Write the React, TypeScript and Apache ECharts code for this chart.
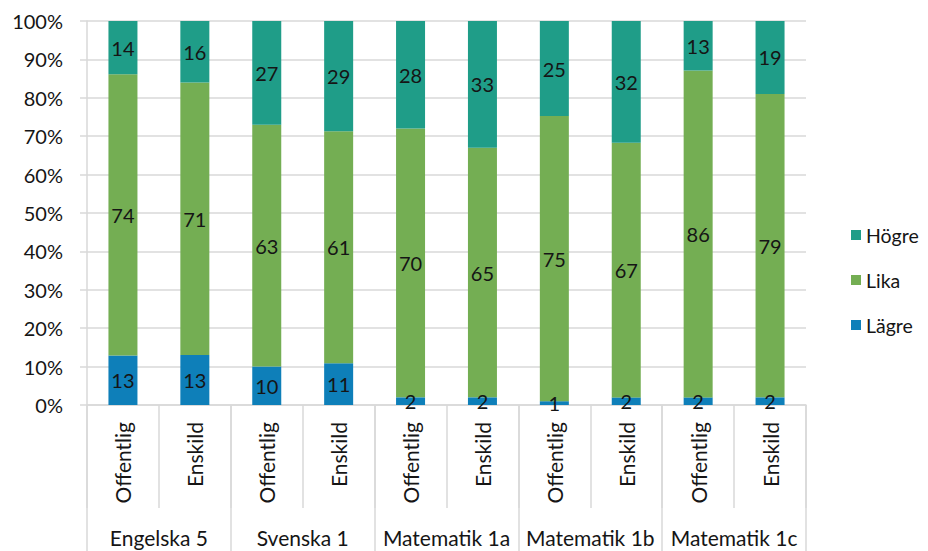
import React, { useEffect, useRef } from "react";
import * as echarts from "echarts";

const schoolTypes = ["Offentlig", "Enskild", "Offentlig", "Enskild", "Offentlig", "Enskild", "Offentlig", "Enskild", "Offentlig", "Enskild"];
const courses = ["Engelska 5", "Svenska 1", "Matematik 1a", "Matematik 1b", "Matematik 1c"];
const lagre = [13, 13, 10, 11, 2, 2, 1, 2, 2, 2];
const lika = [74, 71, 63, 61, 70, 65, 75, 67, 86, 79];
const hogre = [14, 16, 27, 29, 28, 33, 25, 32, 13, 19];
const yTicks = [0, 10, 20, 30, 40, 50, 60, 70, 80, 90, 100];

const FONT = "Lato, 'Noto Sans', sans-serif";
const GRAY = "#d9d9d9";
const TXT = "#151515";

export default function App() {
  const ref = useRef<HTMLDivElement>(null);
  useEffect(() => {
    if (!ref.current) return;
    const chart = echarts.init(ref.current, null, { renderer: "svg" });
    const totals = lagre.map((v, i) => v + lika[i] + hogre[i]);
    const norm = (arr: number[]) => arr.map((v, i) => (v / totals[i]) * 100);
    const mk = (name: string, arr: number[], color: string) => ({
      name,
      type: "bar",
      stack: "all",
      barWidth: 29,
      data: norm(arr),
      itemStyle: { color },
      label: {
        show: true,
        position: "inside",
        color: TXT,
        fontFamily: FONT,
        fontSize: 20,
        formatter: (p: any) => String(arr[p.dataIndex]),
      },
    });
    chart.setOption({
      animation: false,
      textStyle: { fontFamily: FONT },
      grid: { left: 87, right: 122, top: 21, bottom: 146, containLabel: false },
      legend: {
        orient: "vertical",
        left: 846,
        top: 220,
        icon: "rect",
        itemWidth: 10,
        itemHeight: 10,
        itemGap: 25,
        data: ["Högre", "Lika", "Lägre"],
        textStyle: { fontFamily: FONT, fontSize: 19.5, color: TXT, lineHeight: 20 },
      },
      xAxis: [
        {
          type: "category",
          data: schoolTypes,
          position: "bottom",
          axisLine: { show: true, lineStyle: { color: GRAY, width: 1.5 } },
          axisTick: { show: true, length: 103, interval: 0, lineStyle: { color: GRAY, width: 1.5 } },
          axisLabel: { rotate: 90, margin: 17, interval: 0, fontFamily: FONT, fontSize: 21, color: TXT },
        },
        {
          type: "category",
          data: courses,
          position: "bottom",
          axisLine: { show: false },
          axisTick: { show: true, length: 146, interval: 0, lineStyle: { color: GRAY, width: 1.5 } },
          axisLabel: { margin: 122, interval: 0, fontFamily: FONT, fontSize: 21, color: TXT },
        },
      ],
      yAxis: {
        type: "value",
        min: yTicks[0],
        max: yTicks[yTicks.length - 1],
        interval: 10,
        axisLine: { show: true, lineStyle: { color: GRAY, width: 1.5 } },
        axisTick: { show: true, length: 7, lineStyle: { color: GRAY, width: 1.5 } },
        splitLine: { show: true, lineStyle: { color: GRAY, width: 1.5 } },
        axisLabel: { margin: 24, formatter: "{value}%", fontFamily: FONT, fontSize: 20, color: TXT },
      },
      series: [
        mk("Lägre", lagre, "#0e7fb9"),
        mk("Lika", lika, "#74ae53"),
        mk("Högre", hogre, "#1f9d88"),
      ],
    });
    return () => chart.dispose();
  }, []);
  return <div ref={ref} style={{ width: 928, height: 551, position: "absolute", left: 0, top: 0 }} />;
}
